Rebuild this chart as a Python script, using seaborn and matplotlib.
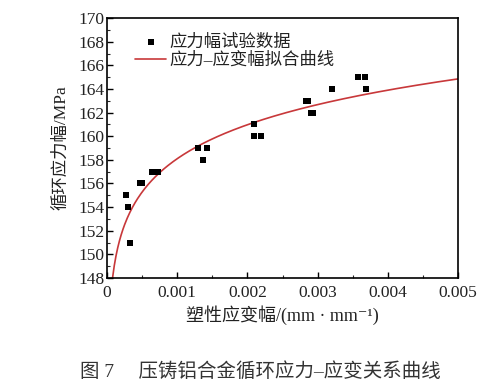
import numpy as np
import pandas as pd
import matplotlib
matplotlib.use("Agg")
import matplotlib.pyplot as plt
import seaborn as sns
from matplotlib.ticker import MultipleLocator, FixedLocator, FixedFormatter

# ---- data ----
strain = [0.000276, 0.000300, 0.000324, 0.000467, 0.000500, 0.000648, 0.000729,
          0.001300, 0.001370, 0.001420, 0.002100, 0.002100, 0.002200,
          0.002830, 0.002870, 0.002900, 0.002930, 0.003200, 0.003570,
          0.003670, 0.003690]
stress = [155, 154, 151, 156, 156, 157, 157,
          159, 158, 159, 161, 160, 160,
          163, 163, 162, 162, 164, 165,
          165, 164]
# fitted power law sigma = K * eps^n
fit_K = 189.2
fit_n = 0.026
x_ticks = [0, 0.001, 0.002, 0.003, 0.004, 0.005]
x_tick_labels = ["0", "0.001", "0.002", "0.003", "0.004", "0.005"]
y_ticks = [148, 150, 152, 154, 156, 158, 160, 162, 164, 166, 168, 170]
label_points = "应力幅试验数据"
label_fit = "应力–应变幅拟合曲线"
x_label = "塑性应变幅/(mm · mm⁻¹)"
y_label = "循环应力幅/MPa"
caption = "图 7　 压铸铝合金循环应力–应变关系曲线"

sns.set_theme(style="white")
plt.rcParams['font.family'] = ['Liberation Serif', 'Noto Sans CJK SC', 'DejaVu Sans']

df = pd.DataFrame({"strain": strain, "stress": stress})
eps_start = (148 / fit_K) ** (1 / fit_n)
eps_curve = np.linspace(eps_start, 0.005, 400)
df_fit = pd.DataFrame({"strain": eps_curve, "stress": fit_K * eps_curve ** fit_n})

fig = plt.figure(figsize=(5.0, 3.85), dpi=100)
ax = fig.add_axes([0.214, 0.278, 0.702, 0.675])

sns.scatterplot(data=df, x="strain", y="stress", ax=ax, marker="s", s=22,
                color="black", edgecolor="black", linewidth=0, label=label_points, zorder=3)
sns.lineplot(data=df_fit, x="strain", y="stress", ax=ax, color="#c8383a",
             linewidth=1.2, label=label_fit, zorder=2)

ax.set_xlim(0, 0.005)
ax.set_ylim(148, 170)
ax.xaxis.set_major_locator(FixedLocator(x_ticks))
ax.xaxis.set_major_formatter(FixedFormatter(x_tick_labels))
ax.xaxis.set_minor_locator(MultipleLocator(0.0005))
ax.yaxis.set_major_locator(FixedLocator(y_ticks))
ax.yaxis.set_minor_locator(MultipleLocator(1))
ax.tick_params(axis="both", which="major", direction="in", length=4, width=1,
               labelsize=12.5, color="black", labelcolor="#222222",
               bottom=True, left=True, top=False, right=False)
ax.tick_params(axis="both", which="minor", direction="in", length=2.5, width=0.8,
               bottom=True, left=True, top=False, right=False)
ax.tick_params(axis="x", pad=5)
ax.tick_params(axis="y", pad=2)
for sp in ax.spines.values():
    sp.set_color("black")
    sp.set_linewidth(1.2)

ax.set_xlabel(x_label, fontsize=13, color="#222222", labelpad=3)
ax.set_ylabel(y_label, fontsize=12.5, color="#222222", labelpad=6)

leg = ax.legend(loc="upper left", frameon=False, fontsize=12.5, handlelength=1.8,
                handletextpad=0.2, borderaxespad=0.3, labelspacing=0.12,
                bbox_to_anchor=(0.045, 0.985))
for t in leg.get_texts():
    t.set_color("#222222")

fig.text(0.52, 0.035, caption, ha="center", va="center", fontsize=14, color="#333333")

fig.savefig("out.png", dpi=100, facecolor="white")
